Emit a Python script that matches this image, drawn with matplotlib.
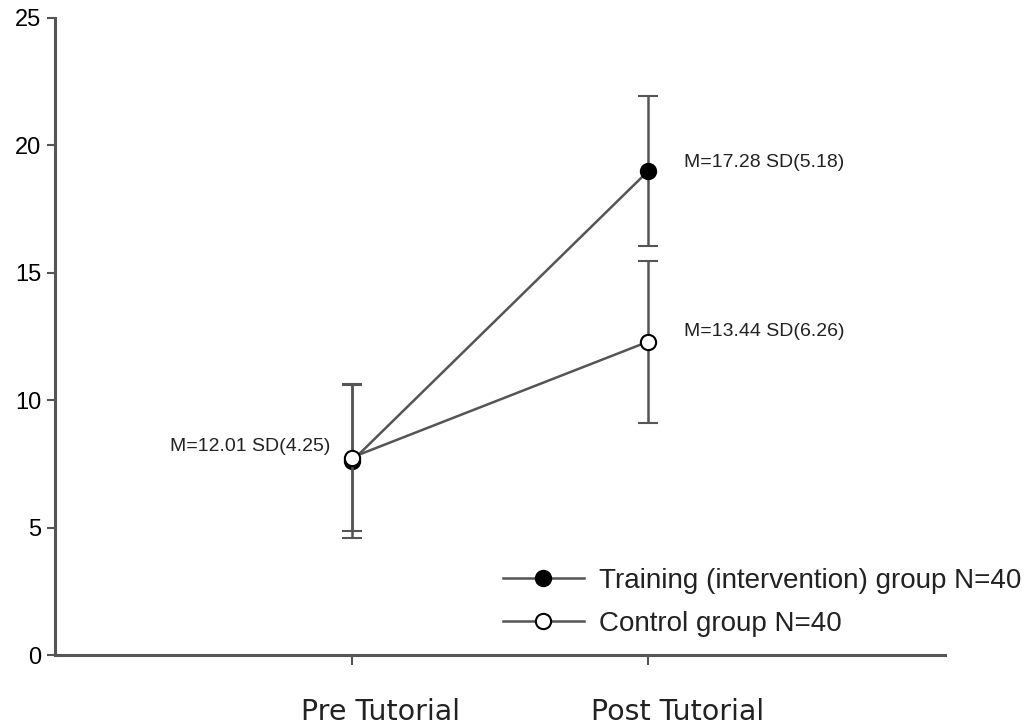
import matplotlib
matplotlib.use("Agg")
import matplotlib.pyplot as plt
from matplotlib.lines import Line2D

plt.rcParams['font.family'] = ['Liberation Sans', 'DejaVu Sans']

categories = ["Pre Tutorial", "Post Tutorial"]
x_pos = [1, 2]
training_mean = [7.6, 19.0]
training_err = [3.0, 2.95]
control_mean = [7.75, 12.3]
control_err = [2.9, 3.18]
training_label = "Training (intervention) group N=40"
control_label = "Control group N=40"
annotations = ["M=12.01 SD(4.25)", "M=17.28 SD(5.18)", "M=13.44 SD(6.26)"]
yticks = [0, 5, 10, 15, 20, 25]

gray = "#555555"
fig = plt.figure(figsize=(10.3, 7.25), dpi=100)
ax = fig.add_axes([55/1030, 1 - 655/725, 890/1030, (655-18)/725])

ax.errorbar(x_pos, control_mean, yerr=control_err, color=gray, lw=1.8,
            ecolor=gray, elinewidth=1.8, capsize=7, capthick=1.8,
            marker='o', markersize=11, markerfacecolor='white',
            markeredgecolor='black', markeredgewidth=1.5, zorder=3)
ax.errorbar(x_pos, training_mean, yerr=training_err, color=gray, lw=1.8,
            ecolor=gray, elinewidth=1.8, capsize=7, capthick=1.8,
            marker='o', markersize=11, markerfacecolor='black',
            markeredgecolor='black', markeredgewidth=1.5, zorder=2)

ax.set_xlim(0, 3)
ax.set_ylim(0, 25)
ax.set_xticks(x_pos)
ax.set_xticklabels([])
ax.set_yticks(yticks)
ax.set_yticklabels([str(t) for t in yticks], fontsize=17)

# category labels, placed slightly right of their ticks as in the reference
for xp, cat in zip(x_pos, categories):
    ax.annotate(cat, xy=(xp, 0), xycoords=('data', 'axes fraction'),
                xytext=(21, -47), textcoords='offset points',
                ha='center', va='baseline', fontsize=20.5,
                family=['DejaVu Sans'], color='#222222', annotation_clip=False)

for s in ['top', 'right']:
    ax.spines[s].set_visible(False)
for s in ['left', 'bottom']:
    ax.spines[s].set_color(gray)
    ax.spines[s].set_linewidth(2.2)
ax.tick_params(axis='y', direction='out', length=6, width=1.5, color=gray, pad=4)
ax.tick_params(axis='x', direction='out', length=7, width=1.5, color=gray)

ax.annotate(annotations[0], xy=(x_pos[0], control_mean[0]), xytext=(-15, 8),
            textcoords='offset points', ha='right', va='center', fontsize=14, color='#222222')
ax.annotate(annotations[1], xy=(x_pos[1], training_mean[1]), xytext=(26, 6),
            textcoords='offset points', ha='left', va='center', fontsize=14, color='#222222')
ax.annotate(annotations[2], xy=(x_pos[1], control_mean[1]), xytext=(26, 7),
            textcoords='offset points', ha='left', va='center', fontsize=14, color='#222222')

h_train = Line2D([], [], color=gray, lw=1.8, marker='o', markersize=11,
                 markerfacecolor='black', markeredgecolor='black', markeredgewidth=1.5)
h_ctrl = Line2D([], [], color=gray, lw=1.8, marker='o', markersize=11,
                markerfacecolor='white', markeredgecolor='black', markeredgewidth=1.5)
leg = fig.legend([h_train, h_ctrl], [training_label, control_label], loc='upper left',
                 bbox_to_anchor=(503/1030, 1 - 568/725),
                 frameon=False, fontsize=20, handlelength=2.9, handletextpad=0.55,
                 labelspacing=0.6, borderpad=0, borderaxespad=0)
for t in leg.get_texts():
    t.set_color('#222222')

fig.savefig("out.png", dpi=100, facecolor='white')
